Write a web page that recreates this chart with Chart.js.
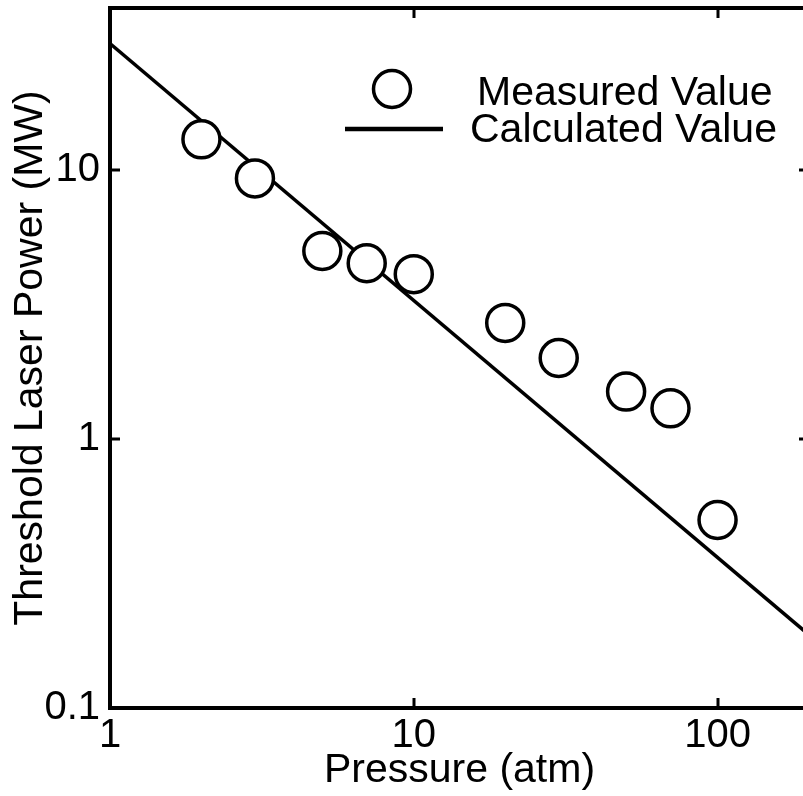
<!DOCTYPE html>
<html>
<head>
<meta charset="utf-8">
<script src="https://cdn.jsdelivr.net/npm/chart.js@4/dist/chart.umd.min.js"></script>
<style>
  html, body { margin: 0; padding: 0; background: #fff; overflow: hidden; }
  #wrap { width: 817px; height: 796px; }
</style>
</head>
<body>
<div id="wrap"><canvas id="chart" width="817" height="796"></canvas></div>
<script>
// Measured threshold powers (MW) vs pressure (atm)
const pressure = [2, 3, 5, 7, 10, 20, 30, 50, 70, 100];
const measuredPower = [13.0, 9.3, 5.0, 4.5, 4.1, 2.7, 2.0, 1.5, 1.3, 0.5];

// Calculated line, read at the two ends of the plot
const calcPressure = [1, 200];
const calcPower = [29.5, 0.187];

const xTickLabels = [1, 10, 100];
const yTickLabels = [0.1, 1, 10];

const seriesNames = ['Measured Value', 'Calculated Value'];

const FONT = "'Liberation Sans', Arial, Helvetica, sans-serif";

const isMatch = (v, list) => list.find(t => Math.abs(Math.log10(v) - Math.log10(t)) < 1e-6);
const isDecade = v => Math.abs(Math.log10(v) - Math.round(Math.log10(v))) < 1e-6;

// keep the plot box where it is in the original, labels may hang outside
const fixBox = size => s => {
  if (s.isHorizontal()) s.height = size; else s.width = size;
  s.paddingTop = s.paddingBottom = s.paddingLeft = s.paddingRight = 0;
};

// frame + inward ticks on all four sides
const framePlugin = {
  id: 'frame',
  afterDatasetsDraw(chart) {
    const { ctx, chartArea: a, scales } = chart;
    ctx.save();
    ctx.strokeStyle = '#000';
    ctx.lineWidth = 3;
    ctx.beginPath();
    scales.x.ticks.forEach(t => {
      const px = Math.round(scales.x.getPixelForValue(t.value));
      const len = isDecade(t.value) ? 10 : 6;
      ctx.moveTo(px, a.bottom); ctx.lineTo(px, a.bottom - len);
      ctx.moveTo(px, a.top); ctx.lineTo(px, a.top + len);
    });
    scales.y.ticks.forEach(t => {
      const py = Math.round(scales.y.getPixelForValue(t.value));
      const len = isDecade(t.value) ? 10 : 6;
      ctx.moveTo(a.left, py); ctx.lineTo(a.left + len, py);
      ctx.moveTo(a.right, py); ctx.lineTo(a.right - len, py);
    });
    ctx.stroke();
    ctx.lineWidth = 4;
    ctx.strokeRect(a.left, a.top, a.right - a.left, a.bottom - a.top);
    ctx.restore();
  }
};

// legend drawn inside the plot, top right
const legendPlugin = {
  id: 'insideLegend',
  afterDraw(chart) {
    const { ctx } = chart;
    const ds = chart.data.datasets;
    ctx.save();
    ctx.strokeStyle = '#000';
    ctx.font = '41px ' + FONT;
    ctx.textBaseline = 'alphabetic';
    ctx.textAlign = 'left';

    // measured: open circle
    ctx.lineWidth = ds[0].borderWidth;
    ctx.fillStyle = '#fff';
    ctx.beginPath();
    ctx.arc(392, 89, ds[0].pointRadius, 0, Math.PI * 2);
    ctx.fill();
    ctx.stroke();
    ctx.fillStyle = '#000';
    ctx.fillText(ds[0].label, 477, 105);

    // calculated: solid line
    ctx.lineWidth = 4.5;
    ctx.beginPath();
    ctx.moveTo(345, 129);
    ctx.lineTo(443, 129);
    ctx.stroke();
    ctx.fillText(ds[1].label, 470, 142);
    ctx.restore();
  }
};

new Chart(document.getElementById('chart'), {
  type: 'scatter',
  data: {
    datasets: [
      {
        label: seriesNames[0],
        data: pressure.map((p, i) => ({ x: p, y: measuredPower[i] })),
        showLine: false,
        pointStyle: 'circle',
        pointRadius: 18.5,
        borderWidth: 3.5,
        borderColor: '#000',
        backgroundColor: '#fff'
      },
      {
        label: seriesNames[1],
        data: calcPressure.map((p, i) => ({ x: p, y: calcPower[i] })),
        showLine: true,
        pointRadius: 0,
        borderWidth: 3.5,
        borderColor: '#000',
        backgroundColor: '#000'
      }
    ]
  },
  options: {
    responsive: false,
    animation: false,
    layout: { autoPadding: false, padding: { top: 8, right: 8, left: 0, bottom: 0 } },
    plugins: {
      legend: { display: false },
      tooltip: { enabled: false }
    },
    scales: {
      x: {
        type: 'logarithmic',
        position: 'bottom',
        min: 1,
        max: 200,
        grid: { display: false, drawTicks: false },
        border: { display: false },
        afterFit: fixBox(88),
        ticks: {
          autoSkip: false,
          maxRotation: 0,
          padding: 8,
          color: '#000',
          font: { family: FONT, size: 40, lineHeight: 1 },
          callback: v => {
            const m = isMatch(v, xTickLabels);
            return m !== undefined ? String(m) : null;
          }
        },
        title: {
          display: true,
          text: 'Pressure (atm)',
          color: '#000',
          font: { family: FONT, size: 41, lineHeight: 1 },
          padding: { top: 0, bottom: 5 }
        }
      },
      y: {
        type: 'logarithmic',
        position: 'left',
        min: 0.1,
        max: 40,
        grid: { display: false, drawTicks: false },
        border: { display: false },
        afterFit: fixBox(110),
        ticks: {
          autoSkip: false,
          padding: 10,
          color: '#000',
          font: { family: FONT, size: 40, lineHeight: 1 },
          callback: v => {
            const m = isMatch(v, yTickLabels);
            return m !== undefined ? String(m) : null;
          }
        },
        title: {
          display: true,
          text: 'Threshold Laser Power (MW)',
          color: '#000',
          font: { family: FONT, size: 41, lineHeight: 1 },
          padding: { top: 10, bottom: 0 }
        }
      }
    }
  },
  plugins: [framePlugin, legendPlugin]
});
</script>
</body>
</html>
